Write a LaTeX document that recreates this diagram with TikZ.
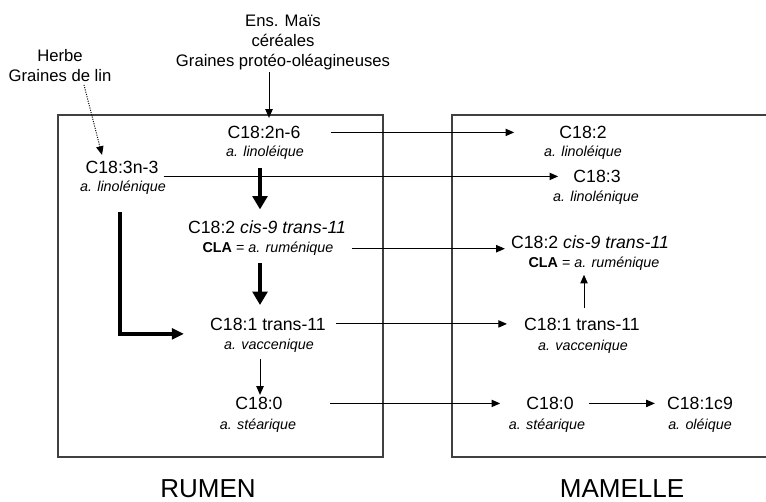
\documentclass[tikz,border=0pt]{standalone}
\usepackage{fontspec}
\setmainfont{Liberation Sans}
\usetikzlibrary{arrows.meta,calc}
\begin{document}
\begin{tikzpicture}[x=0.75pt,y=-0.75pt,
  main/.style={font=\fontsize{13.25}{15}\selectfont, anchor=base, inner sep=0pt},
  sub/.style={font=\fontsize{10.75}{13}\selectfont\itshape, anchor=base, inner sep=0pt},
  src/.style={font=\fontsize{12.5}{15}\selectfont, anchor=base, inner sep=0pt},
  ttl/.style={font=\fontsize{19.5}{22}\selectfont, anchor=base, inner sep=0pt},
  thinarr/.style={line width=0.75pt, -{Triangle[length=6.5pt,width=5.5pt]}},
  thickarr/.style={line width=3.5pt, -{Triangle[length=10pt,width=11pt]}},
  elbowarr/.style={line width=3pt, -{Triangle[length=9pt,width=8pt]}},
  dotarr/.style={line width=0.75pt, densely dotted, -{Triangle[length=6.5pt,width=5.5pt]}},
  boxline/.style={line width=1.1pt, draw=black!75}]
\useasboundingbox (0,0) rectangle (766,502);

% boxes
\draw[boxline] (58,115) rectangle (383,457);
\draw[boxline] (766,115) -- (452,115) -- (452,457) -- (766,457);

% sources
\node[src] (ens1) at (283,27) {Ens. Maïs};
\node[src] (ens2) at (283,47) {céréales};
\node[src] (ens3) at (283,67) {Graines protéo-oléagineuses};
\node[src] (herbe1) at (60,62) {Herbe};
\node[src] (herbe2) at (60,82) {Graines de lin};

% rumen
\node[main] (l2n6) at (264,138.5) {C18:2n-6};
\node[sub] (l2n6b) at (265,156.5) {a. linoléique};
\node[main] (l3n3) at (122,173.5) {C18:3n-3};
\node[sub] (l3n3b) at (123,191.5) {a. linolénique};
\node[main] (l182c) at (267,233.5) {C18:2 \textit{cis-9 trans-11}};
\node[sub] (lclab) at (268,252.5) {\upshape\textbf{CLA} = \textit{a. ruménique}};
\node[main] (l181) at (268,330) {C18:1 trans-11};
\node[sub] (l181b) at (269,349.5) {a. vaccenique};
\node[main] (l180) at (259,409.5) {C18:0};
\node[sub] (l180b) at (258,429.5) {a. stéarique};

% mamelle
\node[main] (r182) at (583,138.5) {C18:2};
\node[sub] (r182b) at (583,156.5) {a. linoléique};
\node[main] (r183) at (597,182.5) {C18:3};
\node[sub] (r183b) at (596,201.5) {a. linolénique};
\node[main] (rcla) at (590,248.5) {C18:2 \textit{cis-9 trans-11}};
\node[sub] (rclab) at (594,267.5) {\upshape\textbf{CLA} = \textit{a. ruménique}};
\node[main] (r181) at (582,330) {C18:1 trans-11};
\node[sub] (r181b) at (583,350.5) {a. vaccenique};
\node[main] (r180) at (550,409.5) {C18:0};
\node[sub] (r180b) at (547,429.5) {a. stéarique};
\node[main] (r181c9) at (700,409.5) {C18:1c9};
\node[sub] (r181c9b) at (700,429.5) {a. oléique};

% titles
\node[ttl] (rumen) at (208,497) {RUMEN};
\node[ttl] (mamelle) at (622,497) {MAMELLE};

% source arrows
\draw[thinarr] ($(ens3.south)+(-14,1.5)$) -- ($(ens3.south |- l2n6.north)+(-14,-8)$);
\draw[dotarr] ($(herbe2.south)+(24,2.5)$) -- ($(l3n3.north)+(-20,-6)$);

% rumen internal
\draw[thickarr] ($(l2n6b.south)+(-5,8.5)$) -- ($(l2n6b.south |- l182c.north)+(-5,-11)$);
\draw[thickarr] ($(lclab.south)+(-8,7.5)$) -- ($(lclab.south |- l181.north)+(-8,-12.4)$);
\draw[thinarr] ($(l181b.south)+(-9,6.5)$) -- ($(l181b.south |- l180.north)+(-9,-2)$);
\draw[elbowarr] ($(l3n3b.south)+(-3,17.5)$) |- ($(l181.west)+(-26,10)$);

% rumen -> mamelle
\draw[thinarr] ($(l2n6.east)+(30,0)$) -- ($(r182.west)+(-45,0)$);
\draw[thinarr] ($(l3n3.east |- r183.west)+(5,0)$) -- ($(r183.west)+(-15,0)$);
\draw[thinarr] ($(lclab.east)+(18,0)$) -- ($(rcla.west |- lclab.east)+(-6,0)$);
\draw[thinarr] ($(l181.east)+(10,0)$) -- ($(r181.west |- l181.east)+(-17,0)$);
\draw[thinarr] ($(l180.east)+(47,0)$) -- ($(r180.west)+(-26,0)$);

% mamelle internal
\draw[thinarr] ($(r180.east)+(15,0)$) -- ($(r181c9.west)+(-12,0)$);
\draw[thinarr] ($(r181.north)+(2,-9)$) -- ($(r181.north |- rclab.south)+(2,4)$);
\end{tikzpicture}
\end{document}
